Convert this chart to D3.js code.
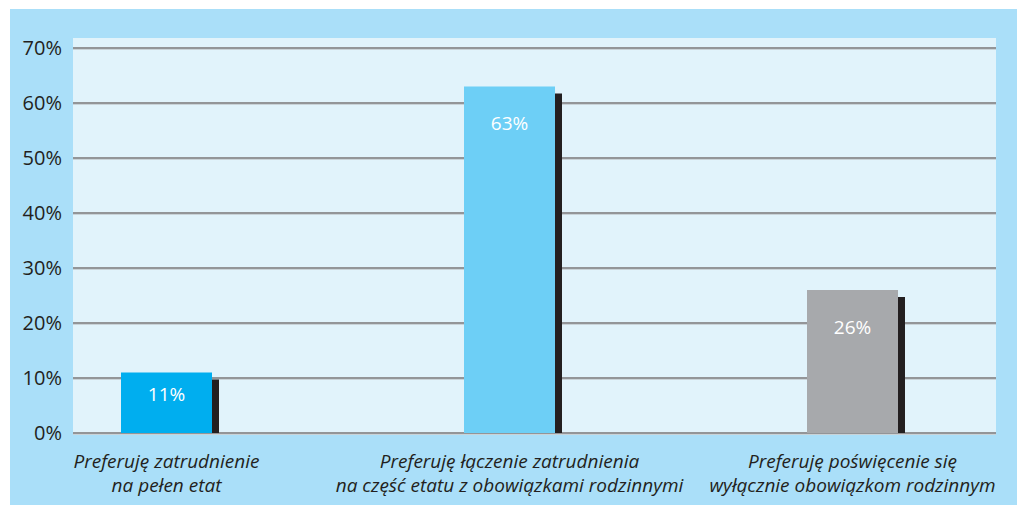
<!DOCTYPE html>
<html>
<head>
<meta charset="utf-8">
<script src="https://cdn.jsdelivr.net/npm/d3@7"></script>
<style>
  html, body { margin: 0; padding: 0; background: #ffffff; }
  svg { display: block; }
  text { font-family: "Open Sans", "Noto Sans", sans-serif; }
</style>
</head>
<body>
<svg id="chart" width="1017" height="505"></svg>
<script>
// Survey answers: preferred balance of work and family duties
const categories = ["full", "mixed", "family"];
const categoryLines = [
  ["Preferuję zatrudnienie", "na pełen etat"],
  ["Preferuję łączenie zatrudnienia", "na część etatu z obowiązkami rodzinnymi"],
  ["Preferuję poświęcenie się", "wyłącznie obowiązkom rodzinnym"]
];
const values = [11, 63, 26];
const valueLabels = ["11%", "63%", "26%"];
const tickValues = [0, 10, 20, 30, 40, 50, 60, 70];
const tickLabels = ["0%", "10%", "20%", "30%", "40%", "50%", "60%", "70%"];
const barColors = ["#00aeef", "#6dcff6", "#a7a9ac"];

const svg = d3.select("#chart");

// Backgrounds: outer frame and plotting panel
svg.append("rect").attr("x", 10).attr("y", 9).attr("width", 1007).attr("height", 496).attr("fill", "#aadff9");
svg.append("rect").attr("x", 73).attr("y", 38).attr("width", 923).attr("height", 395).attr("fill", "#e1f3fb");

const y = d3.scaleLinear().domain([0, 70]).range([433, 48]);
const x = d3.scalePoint().domain(categories).range([166.5, 852.5]);
const barW = 91, shadowW = 7, shadowDrop = 7;

// Horizontal gridlines
const grid = svg.append("g");
grid.selectAll("line.g").data(tickValues).join("line")
  .attr("x1", 73).attr("x2", 996)
  .attr("y1", d => y(d)).attr("y2", d => y(d))
  .attr("stroke", "#939598").attr("stroke-width", 2);
grid.selectAll("line.h").data(tickValues).join("line")
  .attr("x1", 73).attr("x2", 996)
  .attr("y1", d => y(d) + 1.5).attr("y2", d => y(d) + 1.5)
  .attr("stroke", "#c9d3d8").attr("stroke-width", 1);

// Y axis labels
const yAxis = d3.axisLeft(y).tickValues(tickValues).tickFormat((d, i) => tickLabels[i]).tickSize(0).tickPadding(0);
const yg = svg.append("g").attr("transform", "translate(62,0)").call(yAxis);
yg.select(".domain").remove();
yg.selectAll("text").attr("font-size", 20).attr("fill", "#231f20")
  .attr("font-family", "'Open Sans', 'Noto Sans', sans-serif").attr("dy", "0.34em");

// Bars with dark drop shadow on the right
const bars = svg.append("g").selectAll("g").data(categories).join("g");
bars.append("rect")
  .attr("x", d => x(d) + barW / 2)
  .attr("y", (d, i) => y(values[i]) + shadowDrop)
  .attr("width", shadowW)
  .attr("height", (d, i) => y(0) - y(values[i]) - shadowDrop)
  .attr("fill", "#231f20");
bars.append("rect")
  .attr("x", d => x(d) - barW / 2)
  .attr("y", (d, i) => y(values[i]))
  .attr("width", barW)
  .attr("height", (d, i) => y(0) - y(values[i]))
  .attr("fill", (d, i) => barColors[i]);
bars.append("text")
  .attr("x", d => x(d))
  .attr("y", (d, i) => {
    const top = y(values[i]);
    return Math.min(top + 37, (top + y(0)) / 2 - 8);
  })
  .attr("dy", "0.35em")
  .attr("text-anchor", "middle")
  .attr("font-size", 19)
  .attr("fill", "#ffffff")
  .text((d, i) => valueLabels[i]);

// Category labels, two italic lines each
const xl = svg.append("g").selectAll("text").data(categories).join("text")
  .attr("x", d => x(d))
  .attr("y", 468)
  .attr("text-anchor", "middle")
  .attr("font-size", 19)
  .attr("font-style", "italic")
  .attr("fill", "#231f20");
xl.selectAll("tspan").data((d, i) => categoryLines[i]).join("tspan")
  .attr("x", function () { return d3.select(this.parentNode).attr("x"); })
  .attr("dy", (d, j) => j === 0 ? 0 : 24)
  .text(d => d);
</script>
</body>
</html>
